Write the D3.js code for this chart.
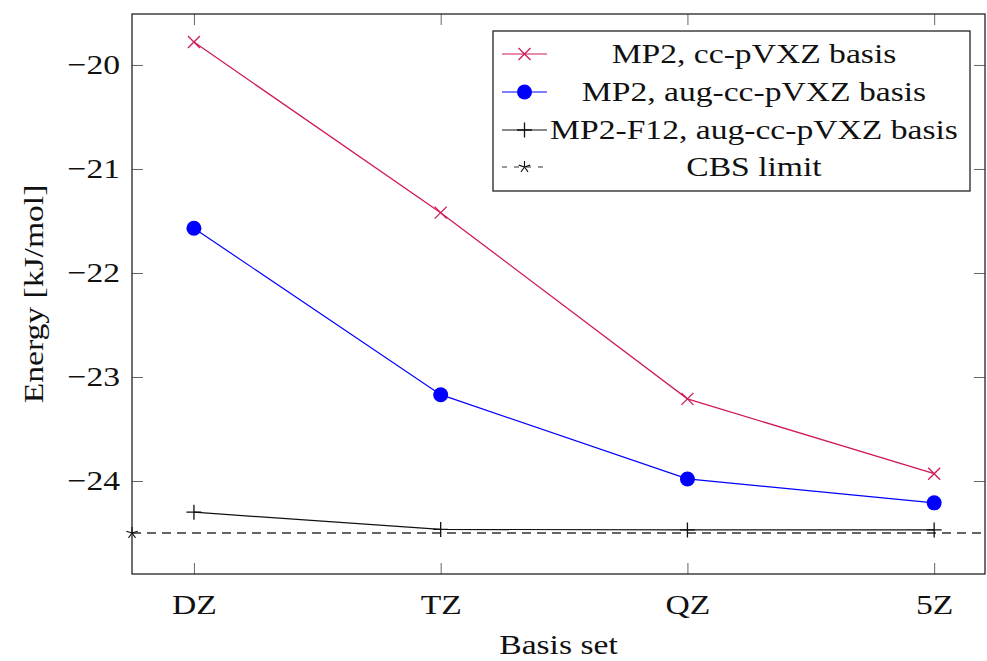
<!DOCTYPE html>
<html>
<head>
<meta charset="utf-8">
<script src="https://cdn.jsdelivr.net/npm/d3@7"></script>
<style>
  html, body { margin: 0; padding: 0; background: #fff; }
  svg text { font-family: "Liberation Serif", "DejaVu Serif", serif; fill: #111; }
</style>
</head>
<body>
<svg id="chart" width="987" height="661"></svg>
<script>
// Basis-set convergence of the interaction energy
const basisSets = ["DZ", "TZ", "QZ", "5Z"];
const cardinal = [2, 3, 4, 5];
const mp2Cc = [-19.78, -21.42, -23.21, -23.93];
const mp2Aug = [-21.57, -23.17, -23.98, -24.21];
const f12Aug = [-24.30, -24.465, -24.47, -24.47];
const cbsLimit = -24.50;
const yTicks = [-20, -21, -22, -23, -24];
const legendLabels = [
  "MP2, cc-pVXZ basis",
  "MP2, aug-cc-pVXZ basis",
  "MP2-F12, aug-cc-pVXZ basis",
  "CBS limit"
];

const W = 987, H = 661;
const margin = { top: 14, right: 2, bottom: 87, left: 132 };
const FS = 28;          // font size of all labels
const STRETCH = 1.2;    // widen the serif glyphs a little
const svg = d3.select("#chart");
const iw = W - margin.left - margin.right;
const ih = H - margin.top - margin.bottom;

const x = d3.scaleLinear().domain([1.749, 5.206]).range([0, iw]);
const y = d3.scaleLinear().domain([-24.894, -19.51]).range([ih, 0]);

const g = svg.append("g").attr("transform", `translate(${margin.left},${margin.top})`);

g.append("clipPath").attr("id", "plotClip")
  .append("rect").attr("width", iw).attr("height", ih);

const tickLen = 11;
const fmt = d => d3.format("d")(d).replace("-", "\u2212");

// axes: labelled bottom/left, mirrored ticks on top/right
const xAxis = d3.axisBottom(x).tickValues(cardinal).tickFormat((d, i) => basisSets[i])
  .tickSizeInner(-tickLen).tickSizeOuter(0).tickPadding(20);
const yAxis = d3.axisLeft(y).tickValues(yTicks).tickFormat(fmt)
  .tickSizeInner(-tickLen).tickSizeOuter(0).tickPadding(12);
const xTop = d3.axisTop(x).tickValues(cardinal).tickFormat("")
  .tickSizeInner(-tickLen).tickSizeOuter(0);
const yRight = d3.axisRight(y).tickValues(yTicks).tickFormat("")
  .tickSizeInner(-tickLen).tickSizeOuter(0);

function styleAxis(sel) {
  sel.select(".domain").remove();
  sel.selectAll(".tick line").attr("stroke", "#666").attr("stroke-width", 1);
  sel.selectAll("text").attr("font-size", FS).attr("fill", "#111")
    .style("font-family", '"Liberation Serif", "DejaVu Serif", serif');
}
g.append("g").attr("transform", `translate(0,${ih})`).call(xAxis).call(styleAxis);
g.append("g").call(yAxis).call(styleAxis);
g.append("g").call(xTop).call(styleAxis);
g.append("g").attr("transform", `translate(${iw},0)`).call(yRight).call(styleAxis);

// frame
g.append("rect").attr("width", iw).attr("height", ih)
  .attr("fill", "none").attr("stroke", "#222").attr("stroke-width", 1.3);

// axis titles
svg.append("text").attr("x", margin.left + iw / 2).attr("y", 654)
  .attr("text-anchor", "middle").attr("font-size", FS).text("Basis set");
svg.append("text")
  .attr("transform", `translate(43,${margin.top + ih / 2}) rotate(-90)`)
  .attr("text-anchor", "middle").attr("font-size", FS).text("Energy [kJ/mol]");

const plot = g.append("g").attr("clip-path", "url(#plotClip)");
const line = d3.line().x(d => x(d[0])).y(d => y(d[1]));

const red = "#d01a5a", blue = "#0000ff", black = "#111";

// marker drawing helpers
function crossMark(sel, cx, cy, c) {
  const r = 6;
  sel.append("path").attr("d", `M${cx - r},${cy - r}L${cx + r},${cy + r}M${cx - r},${cy + r}L${cx + r},${cy - r}`)
    .attr("stroke", c).attr("stroke-width", 1.3).attr("fill", "none");
}
function dotMark(sel, cx, cy, c) {
  sel.append("circle").attr("cx", cx).attr("cy", cy).attr("r", 7.5).attr("fill", c);
}
function plusMark(sel, cx, cy, c) {
  const r = 7.5;
  sel.append("path").attr("d", `M${cx - r},${cy}L${cx + r},${cy}M${cx},${cy - r}L${cx},${cy + r}`)
    .attr("stroke", c).attr("stroke-width", 1.3).attr("fill", "none");
}
function starMark(sel, cx, cy, c) {
  const r = 6;
  let d = "";
  for (let k = 0; k < 5; k++) {
    const a = -Math.PI / 2 + k * 2 * Math.PI / 5;
    d += `M${cx},${cy}L${cx + r * Math.cos(a)},${cy + r * Math.sin(a)}`;
  }
  sel.append("path").attr("d", d).attr("stroke", c).attr("stroke-width", 1.1).attr("fill", "none");
}

// CBS limit line
plot.append("path").datum([[x.domain()[0], cbsLimit], [x.domain()[1], cbsLimit]])
  .attr("d", line).attr("fill", "none").attr("stroke", "#333")
  .attr("stroke-width", 1.3).attr("stroke-dasharray", "9,6");

const series = [
  { vals: mp2Cc, color: red, mark: crossMark, w: 1.3 },
  { vals: mp2Aug, color: blue, mark: dotMark, w: 1.2 },
  { vals: f12Aug, color: black, mark: plusMark, w: 1.2 }
];
series.forEach(s => {
  const pts = cardinal.map((c, i) => [c, s.vals[i]]);
  plot.append("path").datum(pts).attr("d", line)
    .attr("fill", "none").attr("stroke", s.color).attr("stroke-width", s.w);
  pts.forEach(p => s.mark(g, x(p[0]), y(p[1]), s.color));
});
starMark(g, x(x.domain()[0]), y(cbsLimit), black);

// legend
const lg = svg.append("g");
const lx0 = 493, ly0 = 31, lw = 477, lh = 160;
lg.append("rect").attr("x", lx0).attr("y", ly0).attr("width", lw).attr("height", lh)
  .attr("fill", "#fff").attr("stroke", "#222").attr("stroke-width", 1.3);
const rowY = [54, 92, 130, 167];
const legendStyles = [
  { color: red, mark: crossMark, dash: null },
  { color: blue, mark: dotMark, dash: null },
  { color: black, mark: plusMark, dash: null },
  { color: black, mark: starMark, dash: "5,7" }
];
legendLabels.forEach((lab, i) => {
  const st = legendStyles[i];
  const yy = rowY[i];
  const ln = lg.append("line").attr("x1", 502).attr("x2", 547).attr("y1", yy).attr("y2", yy)
    .attr("stroke", st.color).attr("stroke-width", 1.2);
  if (st.dash) ln.attr("stroke-dasharray", st.dash).attr("stroke", "#333");
  st.mark(lg, 524.5, yy, st.color);
  lg.append("text").attr("x", 754).attr("y", yy + 9).attr("text-anchor", "middle")
    .attr("font-size", FS).text(lab);
});

// widen every label so the serif face runs as wide as a Computer Modern setting
svg.selectAll("text").each(function () {
  const len = this.getComputedTextLength();
  if (len > 0) {
    d3.select(this).attr("textLength", len * STRETCH).attr("lengthAdjust", "spacingAndGlyphs");
  }
});
</script>
</body>
</html>
